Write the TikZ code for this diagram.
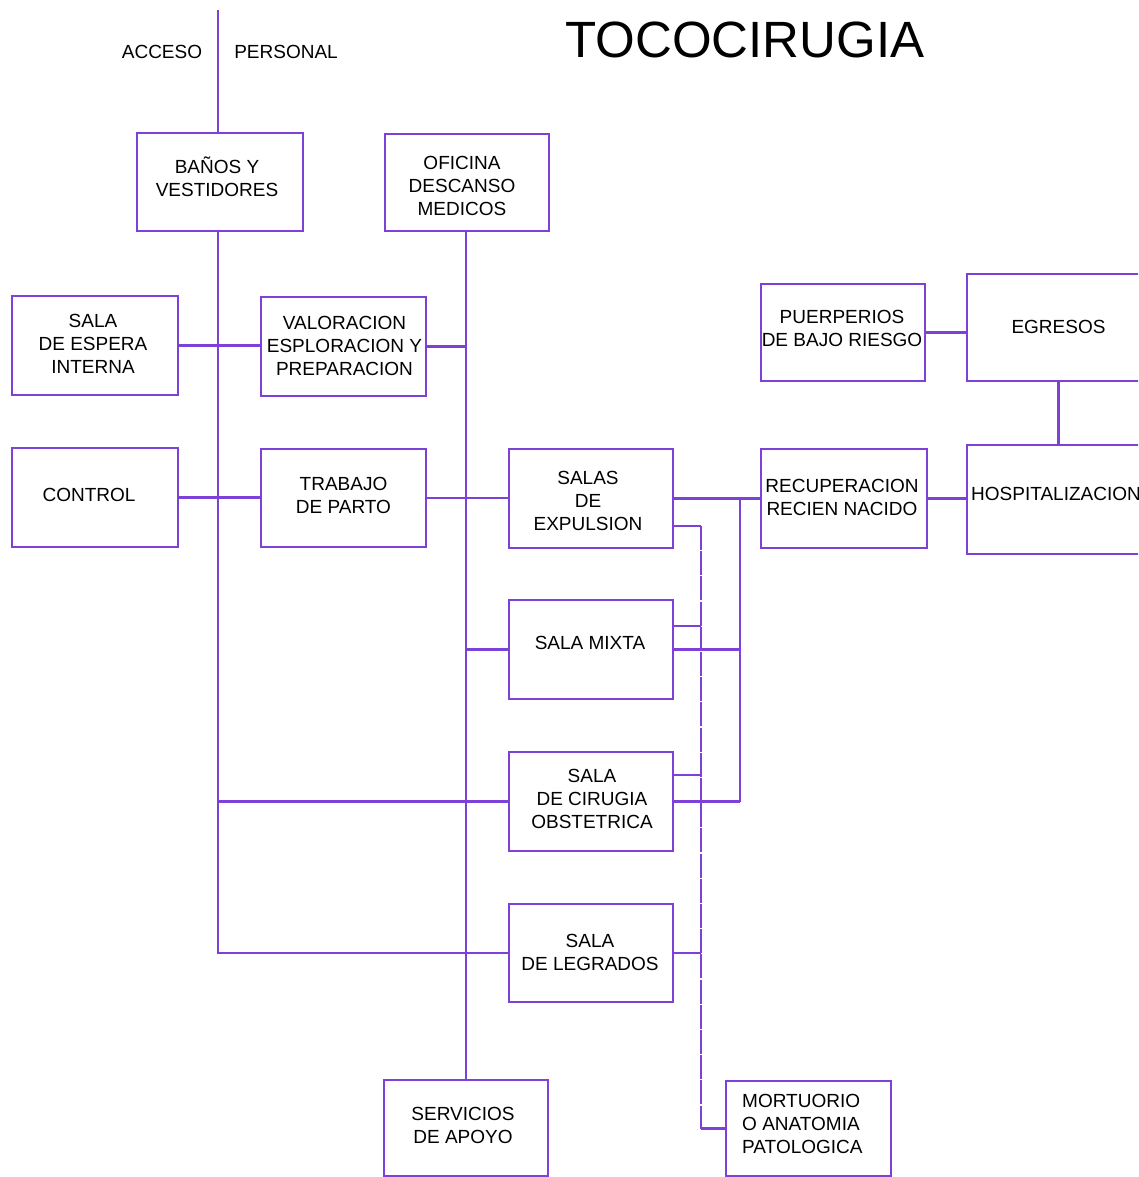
\documentclass[tikz,border=0pt]{standalone}
\usepackage{fontspec}
\setmainfont{Liberation Sans}
\usetikzlibrary{calc}
\definecolor{linecol}{RGB}{125,65,215}
\begin{document}
\begin{tikzpicture}[x=1pt,y=-1pt,
  box/.style={draw=linecol, line width=2.7pt, fill=white, inner sep=0pt},
  link/.style={draw=linecol, line width=2.7pt},
  dlink/.style={draw=linecol, line width=2.7pt, dash pattern=on 24pt off 1.2pt},
  txt/.style={inner sep=0pt, align=center, font=\fontsize{19}{23}\selectfont},
  ltxt/.style={inner sep=0pt, align=left, anchor=west, font=\fontsize{19}{23}\selectfont}]
\useasboundingbox (0,0) rectangle (1138,1177);
\clip (0,0) rectangle (1138,1177);

% bus lines
\coordinate (tL) at (218,10);
\coordinate (tM) at (466,0);
\coordinate (tR) at (740,0);
\coordinate (tD) at (701,0);

% rooms
\node[box, minimum width=166, minimum height=98] (banos) at (220,182) {};
\node[box, minimum width=164, minimum height=97] (oficina) at (467,182.5) {};
\node[box, minimum width=166, minimum height=99] (espera) at (95,345.5) {};
\node[box, minimum width=165, minimum height=99] (valor) at (343.5,346.5) {};
\node[box, minimum width=166, minimum height=99] (control) at (95,497.5) {};
\node[box, minimum width=165, minimum height=98] (trabajo) at (343.5,498) {};
\node[box, minimum width=164, minimum height=99] (expulsion) at (591,498.5) {};
\node[box, minimum width=164, minimum height=99] (mixta) at (591,649.5) {};
\node[box, minimum width=164, minimum height=99] (cirugia) at (591,801.5) {};
\node[box, minimum width=164, minimum height=98] (legrados) at (591,953) {};
\node[box, minimum width=164, minimum height=96] (servicios) at (466,1128) {};
\node[box, minimum width=165, minimum height=95] (mortuorio) at (808.5,1128.5) {};
\node[box, minimum width=164, minimum height=97] (puerperios) at (843,332.5) {};
\node[box, minimum width=183, minimum height=107] (egresos) at (1058.5,327.5) {};
\node[box, minimum width=166, minimum height=99] (recuperacion) at (844,498.5) {};
\node[box, minimum width=183, minimum height=109] (hosp) at (1058.5,499.5) {};

% room names
\node[txt] (banosT) at ($(banos.center)+(-3,-5)$) {BAÑOS Y\\VESTIDORES};
\node[txt] (oficinaT) at ($(oficina.center)+(-5,3)$) {OFICINA\\DESCANSO\\MEDICOS};
\node[txt] (esperaT) at ($(espera.center)+(-2,-2)$) {SALA\\DE ESPERA\\INTERNA};
\node[txt] (valorT) at ($(valor.center)+(1,-1)$) {VALORACION\\ESPLORACION Y\\PREPARACION};
\node[txt] (controlT) at ($(control.center)+(-6,-3)$) {CONTROL};
\node[txt] (trabajoT) at ($(trabajo.center)+(0,-3)$) {TRABAJO\\DE PARTO};
\node[txt] (expulsionT) at ($(expulsion.center)+(-3,2)$) {SALAS\\DE\\EXPULSION};
\node[txt] (mixtaT) at ($(mixta.center)+(-1,-7)$) {SALA MIXTA};
\node[txt] (cirugiaT) at ($(cirugia.center)+(1,-3)$) {SALA\\DE CIRUGIA\\OBSTETRICA};
\node[txt] (legradosT) at ($(legrados.center)+(-1,-1)$) {SALA\\DE LEGRADOS};
\node[txt] (serviciosT) at ($(servicios.center)+(-3,-3)$) {SERVICIOS\\DE APOYO};
\node[ltxt] (mortuorioT) at (742,1124) {MORTUORIO\\O ANATOMIA\\PATOLOGICA};
\node[txt] (puerperiosT) at ($(puerperios.center)+(-1,-4)$) {PUERPERIOS\\DE BAJO RIESGO};
\node[txt] (egresosT) at ($(egresos.center)+(0,-1)$) {EGRESOS};
\node[txt] (recuperacionT) at ($(recuperacion.center)+(-2,-1)$) {RECUPERACION\\RECIEN NACIDO};
\node[ltxt] (hospT) at (971,493.5) {HOSPITALIZACION};

% labels and title
\node[txt] (acceso) at (162,51.5) {ACCESO};
\node[txt] (personal) at (286,51.5) {PERSONAL};
\node[inner sep=0pt, font=\fontsize{51}{56}\selectfont] (titulo) at (745,40) {TOCOCIRUGIA};

% staff access and left corridor
\draw[link] (tL) -- (tL |- banos.north);
\draw[link] (banos.south -| tL) -- (tL |- legrados) -- (legrados.west);
\draw[link] (espera.east) -- (espera.east -| valor.west);
\draw[link] (control.east) -- (control.east -| trabajo.west);
\draw[link] (tL |- cirugia) -- (cirugia.west);

% central corridor
\draw[link] (oficina.south -| tM) -- (servicios.north -| tM);
\draw[link] (valor.east) -- (valor.east -| tM);
\draw[link] (trabajo.east) -- (trabajo.east -| expulsion.west);
\draw[link] (tM |- mixta) -- (mixta.west);

% newborn recovery bus
\draw[link] (expulsion.east) -- (expulsion.east -| recuperacion.west);
\draw[link] (tR |- expulsion.east) -- (tR |- cirugia.east);
\draw[link] (mixta.east) -- (mixta.east -| tR);
\draw[link] (cirugia.east) -- (cirugia.east -| tR);

% pathology bus
\coordinate (dE) at ($(expulsion.east)+(0,27.5)$);
\coordinate (dM) at ($(mixta.east)+(0,-23.5)$);
\coordinate (dC) at ($(cirugia.east)+(0,-26.5)$);
\draw[dlink] (dE -| tD) -- (tD |- mortuorio.west);
\draw[link] (tD |- mortuorio.west) -- (mortuorio.west);
\draw[link] (dE) -- (dE -| tD);
\draw[link] (dM) -- (dM -| tD);
\draw[link] (dC) -- (dC -| tD);
\draw[link] (legrados.east) -- (legrados.east -| tD);

% right wing
\draw[link] (puerperios.east) -- (puerperios.east -| egresos.west);
\draw[link] (egresos.south) -- (egresos.south |- hosp.north);
\draw[link] (recuperacion.east) -- (recuperacion.east -| hosp.west);
\end{tikzpicture}
\end{document}
